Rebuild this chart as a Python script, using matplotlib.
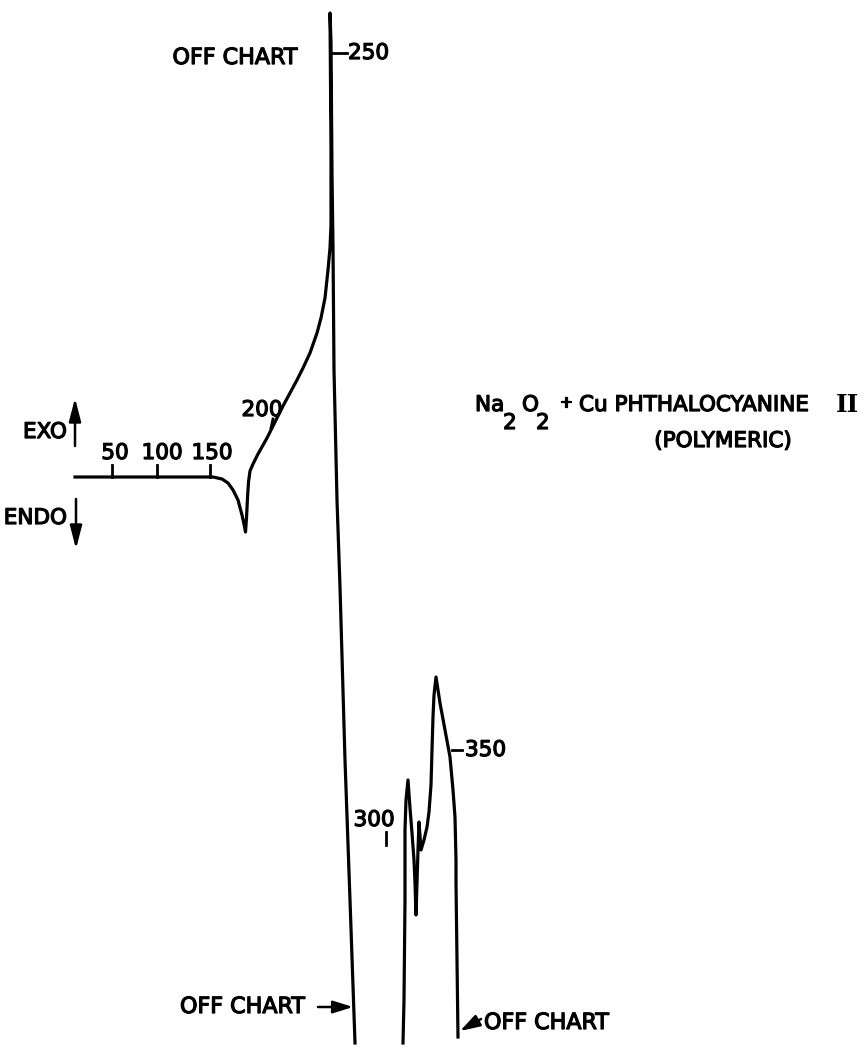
import matplotlib
matplotlib.use("Agg")
import matplotlib.pyplot as plt
import matplotlib.patheffects as pe

# DTA trace, drawn in chart units (x = deflection, y = chart travel, down = later)
# first pass: baseline, endotherm, exotherm going off the top, back off the bottom
trace_a_x = [75, 111, 156, 200, 213, 222, 228, 233, 238, 242, 244, 245.5,
             246.5, 247.5, 248.5, 250, 253, 258, 267, 275, 283, 290, 297,
             303, 310, 317, 321, 325, 328, 330, 331, 331, 330,
             331, 332, 333, 334, 337, 340, 345, 350, 355]
trace_a_y = [477, 477, 477, 477, 477, 479, 483, 490, 500, 515, 524, 532,
             518, 498, 482, 471, 464, 454, 438, 422, 406, 393, 380,
             368, 353, 333, 318, 298, 270, 248, 225, 150, 13,
             43, 173, 247, 370, 500, 587, 760, 900, 1043]

# second pass: comes back on chart from below, double peak, leaves again
trace_b_x = [403, 404, 405, 405, 406, 408, 410, 412, 414, 415, 416, 417,
             418, 419, 420, 421, 424, 427, 429, 431, 432, 433, 434, 436,
             438, 440, 445, 450, 453, 455, 456, 456, 457, 458]
trace_b_y = [1043, 1000, 900, 830, 800, 780, 808, 833, 860, 883, 915, 882,
             850, 822, 836, 850, 840, 827, 812, 785, 750, 717, 695, 677,
             690, 703, 730, 757, 790, 817, 860, 883, 960, 1037]

# temperature marks (deg C) along the trace
temps = [50, 100, 150, 200, 250, 300, 350]

fig = plt.figure(figsize=(8.65, 10.5), dpi=100)
ax = fig.add_axes([0, 0, 1, 1])
ax.set_xlim(0, 865)
ax.set_ylim(1050, 0)
ax.axis("off")

lw = 2.3
ax.plot(trace_a_x, trace_a_y, color="black", lw=lw, solid_joinstyle="round")
ax.plot(trace_b_x, trace_b_y, color="black", lw=lw, solid_joinstyle="round")

ink = [pe.withStroke(linewidth=0.9, foreground="black")]
txt = dict(color="black", fontsize=15.5, path_effects=ink)

# temperature ticks and labels
tick_segs = {
    50: ((112, 112), (465, 477)),
    100: ((157, 157), (465, 477)),
    150: ((210, 210), (465, 477)),
    200: ((273, 271), (419, 428)),
    250: ((332, 347), (53, 53)),
    300: ((386, 386), (832, 845)),
    350: ((452, 462), (750, 750)),
}
label_pos = {
    50: (115, 453, "center"),
    100: (162, 453, "center"),
    150: (212, 453, "center"),
    200: (262, 410, "center"),
    250: (348, 53, "left"),
    300: (374, 820, "center"),
    350: (465, 750, "left"),
}
for t in temps:
    xs, ys = tick_segs[t]
    ax.plot(xs, ys, color="black", lw=2.0)
    x, y, ha = label_pos[t]
    ax.text(x, y, str(t), ha=ha, va="center", **txt)

# EXO / ENDO direction arrows
arrow = dict(arrowstyle="-|>,head_length=0.7,head_width=0.18", color="black",
             lw=1.8, mutation_scale=20, shrinkA=0, shrinkB=0)
ax.annotate("", xy=(75, 398), xytext=(75, 446), arrowprops=arrow)
ax.annotate("", xy=(76, 549), xytext=(76, 499), arrowprops=arrow)
ax.text(67, 432, "EXO", ha="right", va="center", **txt)
ax.text(67, 518, "ENDO", ha="right", va="center", **txt)

# off-chart notes
note = {**txt, "fontsize": 16}
small_arrow = {**arrow, "arrowstyle": "-|>,head_length=0.8,head_width=0.25",
               "mutation_scale": 15}
ax.text(235, 58, "OFF CHART", ha="center", va="center", **note)
ax.text(180, 1007, "OFF CHART", ha="left", va="center", **note)
ax.annotate("", xy=(353, 1007), xytext=(318, 1007), arrowprops=small_arrow)
ax.text(484, 1023, "OFF CHART", ha="left", va="center", **note)
ax.annotate("", xy=(460, 1031), xytext=(481, 1019), arrowprops=small_arrow)

# sample description: Na2O2 + Cu phthalocyanine II (polymeric)
ax.text(475, 405, "Na", ha="left", va="center", **txt)
ax.text(503, 423, "2", ha="left", va="center", **txt)
ax.text(522, 405, "O", ha="left", va="center", **txt)
ax.text(536, 423, "2", ha="left", va="center", **txt)
ax.text(566, 402, "+", ha="center", va="center", **{**txt, "fontsize": 11})
ax.text(579, 405, "Cu PHTHALOCYANINE", ha="left", va="center", **txt)
ax.text(859, 405, "II", ha="right", va="center", family="DejaVu Serif",
        fontweight="bold", fontsize=18, color="black")
ax.text(723, 441, "(POLYMERIC)", ha="center", va="center", **txt)

fig.savefig("out.png", dpi=100, facecolor="white")
